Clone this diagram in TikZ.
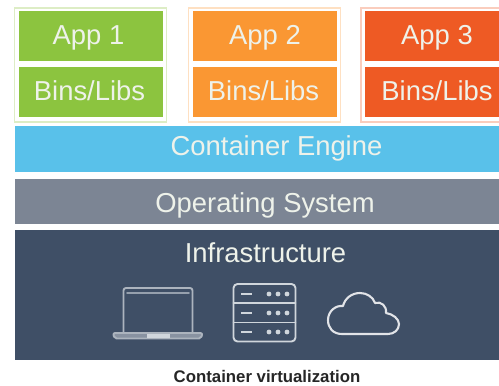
\documentclass[tikz,border=0pt]{standalone}
\usepackage{fontspec}
\setmainfont{Liberation Sans}
\definecolor{cgreen}{HTML}{8CC43F}
\definecolor{corange}{HTML}{FA9733}
\definecolor{cred}{HTML}{EE5A24}
\definecolor{cblue}{HTML}{59C1EA}
\definecolor{cgray}{HTML}{7C8594}
\definecolor{cnavy}{HTML}{3F4F66}
\definecolor{ctext}{HTML}{EEF2EA}
\definecolor{cicon}{HTML}{D0D6DC}
\tikzset{
  pic box/.style n args={4}{rectangle,inner sep=0pt,outer sep=0pt,anchor=north west,
    minimum width=#1,minimum height=#2,fill=#3,draw=#4},
  lab/.style={text=ctext,font=\fontsize{27.4}{27}\selectfont,anchor=base},
  icon/.style={draw=cicon,line width=1.9pt,line join=round,line cap=round},
  capt/.style={text=black!85,font=\fontsize{16.8}{17}\selectfont\bfseries,anchor=base}
}
\begin{document}
\begin{tikzpicture}[x=1pt,y=-1pt]
\useasboundingbox (0,0) rectangle (499,386);
\fill[white] (0,0) rectangle (499,386);
% container frames
\node[pic box={152pt}{114pt}{white}{cgreen!30}, line width=1.4pt] (f1) at (14.5,8) {};
\node[pic box={152pt}{114pt}{white}{corange!30}, line width=1.4pt] (f2) at (188.5,8) {};
\node[pic box={145pt}{114pt}{white}{cred!30}, line width=1.4pt] (f3) at (361,8) {};
% app boxes
\node[pic box={143pt}{49pt}{cgreen}{cgreen}] (a1) at (19,11) {};
\node[pic box={143pt}{49pt}{cgreen}{cgreen}] (b1) at (19,67.5) {};
\node[pic box={143pt}{49pt}{corange}{corange}] (a2) at (193,11) {};
\node[pic box={143pt}{49pt}{corange}{corange}] (b2) at (193,67.5) {};
\node[pic box={140pt}{49pt}{cred}{cred}] (a3) at (365.5,11) {};
\node[pic box={140pt}{49pt}{cred}{cred}] (b3) at (365.5,67.5) {};
\node[lab] (ta1) at (88.5,44.5) {App 1};
\node[lab] (tb1) at (89.5,100) {Bins/Libs};
\node[lab] (ta2) at (265,44.5) {App 2};
\node[lab] (tb2) at (263.5,100) {Bins/Libs};
\node[lab] (ta3) at (437,44.5) {App 3};
\node[lab] (tb3) at (437,100) {Bins/Libs};
% layers
\node[pic box={490pt}{45pt}{cblue}{cblue}] (engine) at (15.5,126) {};
\node[pic box={490pt}{44pt}{cgray}{cgray}] (os) at (15.5,179.5) {};
\node[pic box={490pt}{129pt}{cnavy}{cnavy}] (infra) at (15.5,230) {};
\node[lab] (te) at (276.5,155) {Container Engine};
\node[lab] (to) at (265,212) {Operating System};
\node[lab] (ti) at (265.5,262) {Infrastructure};
% laptop
\draw[icon,cicon!75!cnavy,rounded corners=2.5pt] (123.5,333) -- (123.5,288) -- (192.5,288) -- (192.5,333);
\draw[icon,cicon!60!cnavy] (127,293) -- (189,293);
\draw[icon,cicon!75!cnavy,rounded corners=2pt,fill=cicon!50!cnavy] (113,333) -- (202.5,333) -- (201,338.5) -- (114.5,338.5) -- cycle;
\fill[cicon] (147,334) rectangle (170,338);
% server
\draw[icon,rounded corners=4pt] (233.5,284) rectangle (295.5,341.5);
\draw[icon] (233.5,303) -- (295.5,303) (233.5,322.5) -- (295.5,322.5);
\foreach \y in {294,313,332}{
  \draw[icon,line width=2.4pt,line cap=butt] (241,\y) -- (252,\y);
  \foreach \x in {269,278,287} \fill[cicon] (\x,\y) circle (2.4pt);
}
% cloud
\draw[icon,white!85!cnavy,line width=2.1pt] (342,334) .. controls (333,334) and (328,328) .. (328,320)
  .. controls (328,311) and (336,305) .. (343,306)
  .. controls (345,298) and (352,293) .. (360,293)
  .. controls (367,293) and (373,297) .. (375,303)
  .. controls (381,301) and (387,306) .. (386,313)
  .. controls (393,314) and (399,319) .. (399,324)
  .. controls (399,330) and (394,334) .. (388,334) -- cycle;
\node[capt] (cap) at (267,382) {Container virtualization};
\end{tikzpicture}
\end{document}
